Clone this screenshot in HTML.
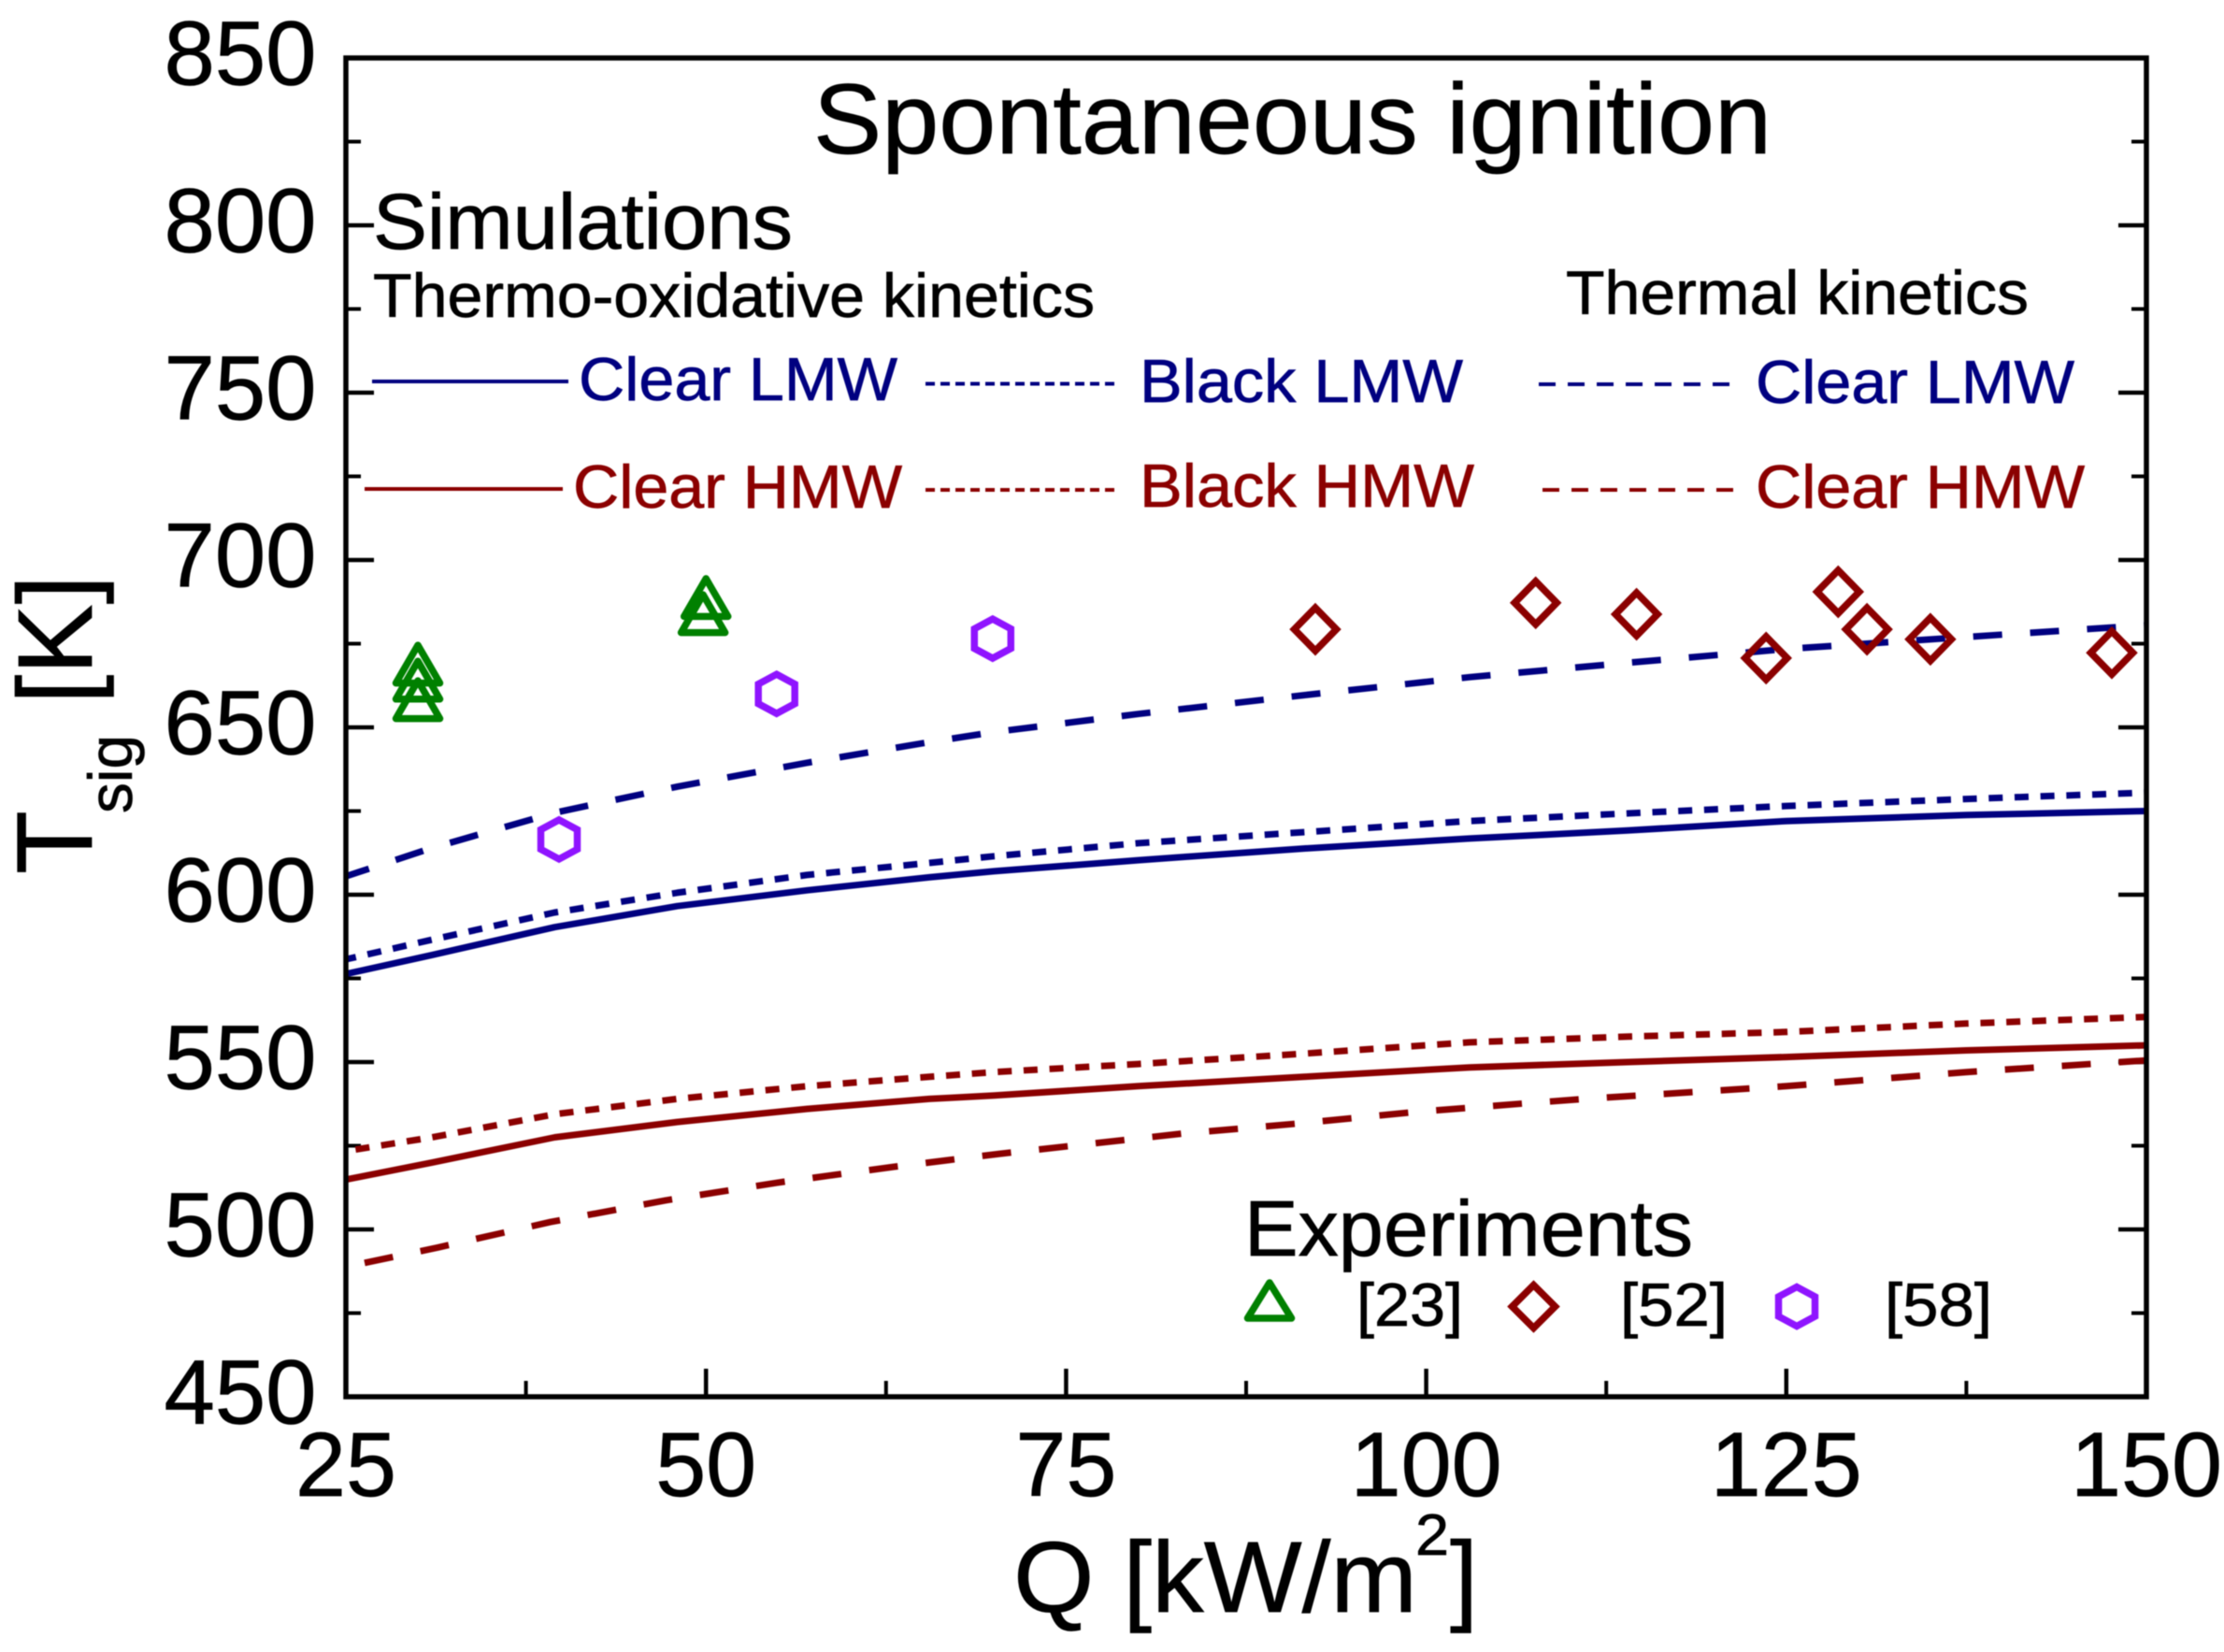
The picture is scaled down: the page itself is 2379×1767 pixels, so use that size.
<!DOCTYPE html>
<html lang="en">
<head>
<meta charset="utf-8">
<title>Spontaneous ignition chart</title>
<style>
html,body{margin:0;padding:0;background:#fff;width:2379px;height:1767px;overflow:hidden}
svg{display:block;filter:blur(0.6px)}
text{font-family:"Liberation Sans",Arial,sans-serif;fill:#000;stroke:#000;stroke-width:0.7px}
.blue{fill:#000080;stroke:#000080}
.red{fill:#8b0000;stroke:#8b0000}
</style>
</head>
<body>
<svg id="chart" xmlns="http://www.w3.org/2000/svg" width="2379" height="1767" viewBox="0 0 2379 1767">
  <rect x="0" y="0" width="2379" height="1767" fill="#fff"/>
  <g id="ticks"></g>
  <g id="tick-labels"></g>
  <g id="series"></g>
  <g id="points"></g>
  <rect x="370" y="62" width="1926" height="1432" fill="none" stroke="#000" stroke-width="5.5"/>

  <text x="870" y="164" font-size="107" textLength="1025" lengthAdjust="spacingAndGlyphs">Spontaneous ignition</text>
  <text x="399" y="266" font-size="84" textLength="449" lengthAdjust="spacingAndGlyphs">Simulations</text>
  <text x="399" y="339" font-size="66" textLength="772" lengthAdjust="spacingAndGlyphs">Thermo-oxidative kinetics</text>
  <text x="1675" y="336" font-size="66" textLength="495" lengthAdjust="spacingAndGlyphs">Thermal kinetics</text>

  <g>
    <line x1="398" y1="408" x2="608" y2="408" stroke="#000080" stroke-width="4"/>
    <text class="blue" x="619" y="428" font-size="65" textLength="341" lengthAdjust="spacingAndGlyphs">Clear LMW</text>
    <line x1="990" y1="410.5" x2="1196" y2="410.5" stroke="#000080" stroke-width="4" stroke-dasharray="10 6"/>
    <text class="blue" x="1219" y="430" font-size="65" textLength="346" lengthAdjust="spacingAndGlyphs">Black LMW</text>
    <line x1="1646" y1="411" x2="1858" y2="411" stroke="#000080" stroke-width="4" stroke-dasharray="18 13"/>
    <text class="blue" x="1878" y="431" font-size="65" textLength="341" lengthAdjust="spacingAndGlyphs">Clear LMW</text>
    <line x1="390" y1="523" x2="602" y2="523" stroke="#8b0000" stroke-width="4"/>
    <text class="red" x="613" y="543" font-size="65" textLength="352" lengthAdjust="spacingAndGlyphs">Clear HMW</text>
    <line x1="990" y1="524" x2="1194" y2="524" stroke="#8b0000" stroke-width="4" stroke-dasharray="10 6"/>
    <text class="red" x="1219" y="542" font-size="65" textLength="358" lengthAdjust="spacingAndGlyphs">Black HMW</text>
    <line x1="1650" y1="524" x2="1862" y2="524" stroke="#8b0000" stroke-width="4" stroke-dasharray="18 13"/>
    <text class="red" x="1878" y="543" font-size="65" textLength="352" lengthAdjust="spacingAndGlyphs">Clear HMW</text>
  </g>

  <g>
    <text x="1331" y="1343" font-size="84" textLength="480" lengthAdjust="spacingAndGlyphs">Experiments</text>
    <polygon points="1358,1372 1381.5,1410 1334.5,1410" fill="none" stroke="#008000" stroke-width="7.5" stroke-linejoin="round"/>
    <text x="1451" y="1418" font-size="65" textLength="114" lengthAdjust="spacingAndGlyphs">[23]</text>
    <polygon points="1640.5,1374.5 1663.5,1397.5 1640.5,1420.5 1617.5,1397.5" fill="none" stroke="#8b0000" stroke-width="7.5"/>
    <text x="1733" y="1418" font-size="65" textLength="115" lengthAdjust="spacingAndGlyphs">[52]</text>
    <polygon points="1922,1376.5 1941.5,1387 1941.5,1408 1922,1418.5 1902.5,1408 1902.5,1387" fill="none" stroke="#8f14ff" stroke-width="7.5"/>
    <text x="2016" y="1418" font-size="65" textLength="115" lengthAdjust="spacingAndGlyphs">[58]</text>
  </g>

  <g>
    <text transform="translate(98 935) rotate(-90)" font-size="115" textLength="68" lengthAdjust="spacingAndGlyphs">T</text>
    <text transform="translate(141 870) rotate(-90)" font-size="66" textLength="84" lengthAdjust="spacingAndGlyphs">sig</text>
    <text transform="translate(98 753) rotate(-90)" font-size="113" textLength="138" lengthAdjust="spacingAndGlyphs">[K]</text>
  </g>
  <g>
    <text x="1084" y="1724" font-size="108" textLength="432" lengthAdjust="spacingAndGlyphs">Q [kW/m</text>
    <text x="1514" y="1663" font-size="62" textLength="36" lengthAdjust="spacingAndGlyphs">2</text>
    <text x="1551" y="1724" font-size="108" textLength="30" lengthAdjust="spacingAndGlyphs">]</text>
  </g>
</svg>
<script>
// Axis ranges and tick labels
const xMajorTicks = [25, 50, 75, 100, 125, 150];
const xMinorTicks = [37.5, 62.5, 87.5, 112.5, 137.5];
const yMajorTicks = [450, 500, 550, 600, 650, 700, 750, 800, 850];
const yMinorTicks = [475, 525, 575, 625, 675, 725, 775, 825];

// Simulated curves: Q [kW/m2] and Tsig [K]
const curveQ = [25, 31, 39.5, 48, 57, 65.5, 70, 80, 91.5, 103, 114, 125, 137.5, 150];
const oxidativeClearLmw = [576.3, 582, 590.3, 596.6, 601.3, 605.2, 607, 610.3, 613.8, 616.8, 619.2, 622, 623.8, 625];
const oxidativeBlackLmw = [580.7, 586.6, 594.7, 600.6, 605.9, 609.5, 611.5, 615.4, 618.7, 622, 624.3, 626.5, 628.6, 630.5];
const thermalClearLmw = [605.5, 614, 624.5, 632.3, 639.4, 645.6, 648.6, 654, 659.6, 665, 669.3, 673.4, 677, 680.5];
const oxidativeClearHmw = [514.9, 520, 527.5, 532.1, 536, 539, 540, 542.8, 545.6, 548.4, 550, 551.5, 553.5, 555];
const oxidativeBlackHmw = [523.4, 527.5, 534.4, 539, 542.8, 545.6, 547, 549.4, 552.5, 555.9, 557.6, 559, 561.5, 563.5];
const thermalHmwQ = [26.3, 31.4, 39.2, 47.2, 55, 63, 70.4, 83, 91, 99, 107, 111, 125, 137.5, 150];
const thermalClearHmw = [490, 494.6, 502.2, 508.7, 514, 518.7, 522.6, 528.6, 531.6, 535, 537.7, 539, 542.8, 547, 550.5];

// Experimental points
const ref23Q = [30, 30, 30, 50, 49.8];
const ref23T = [668.4, 663.6, 657.8, 688.3, 683.5];
const ref52Q = [92.3, 107.6, 114.6, 123.6, 128.6, 130.6, 135, 147.6];
const ref52T = [679.3, 687.2, 683.8, 670.7, 690.5, 679.3, 676.3, 672.3];
const ref58Q = [39.8, 54.9, 69.9];
const ref58T = [616.5, 660, 676.5];

const NS = 'http://www.w3.org/2000/svg';
const plotLeft = 370, plotRight = 2296, plotTop = 62, plotBottom = 1494;
function xScale(q) { return plotLeft + (q - 25) / (150 - 25) * (plotRight - plotLeft); }
function yScale(t) { return plotBottom - (t - 450) / (850 - 450) * (plotBottom - plotTop); }

const ticksGroup = document.getElementById('ticks');
const labelsGroup = document.getElementById('tick-labels');
const seriesGroup = document.getElementById('series');
const pointsGroup = document.getElementById('points');

function addTick(x1, y1, x2, y2, width, name) {
  const el = document.createElementNS(NS, 'line');
  el.setAttribute('x1', x1);
  el.setAttribute('y1', y1);
  el.setAttribute('x2', x2);
  el.setAttribute('y2', y2);
  el.setAttribute('stroke', '#000');
  el.setAttribute('stroke-width', width);
  
  
  ticksGroup.appendChild(el);
}
xMajorTicks.forEach(function (v) {
  addTick(xScale(v), plotBottom, xScale(v), plotBottom - 30, 4.5, 'x-major-tick');
  const el = document.createElementNS(NS, 'text');
  const s = String(v);
  el.textContent = s;
  el.setAttribute('x', xScale(v) - s.length * 54 / 2);
  el.setAttribute('y', 1600);
  el.setAttribute('font-size', '97');
  el.setAttribute('textLength', s.length * 54);
  el.setAttribute('lengthAdjust', 'spacingAndGlyphs');
  
  
  labelsGroup.appendChild(el);
});
xMinorTicks.forEach(function (v) {
  addTick(xScale(v), plotBottom, xScale(v), plotBottom - 17, 4, 'x-minor-tick');
});
yMajorTicks.forEach(function (v) {
  addTick(plotLeft, yScale(v), plotLeft + 30, yScale(v), 4.5, 'y-major-tick-left');
  addTick(plotRight, yScale(v), plotRight - 30, yScale(v), 4.5, 'y-major-tick-right');
  const el = document.createElementNS(NS, 'text');
  el.textContent = String(v);
  el.setAttribute('x', 175.5);
  el.setAttribute('y', yScale(v) + 28.5);
  el.setAttribute('font-size', '97');
  el.setAttribute('textLength', '163');
  el.setAttribute('lengthAdjust', 'spacingAndGlyphs');
  
  
  labelsGroup.appendChild(el);
});
yMinorTicks.forEach(function (v) {
  addTick(plotLeft, yScale(v), plotLeft + 16, yScale(v), 4, 'y-minor-tick-left');
  addTick(plotRight, yScale(v), plotRight - 16, yScale(v), 4, 'y-minor-tick-right');
});

function addCurve(qs, ts, color, dash, offset, name) {
  const el = document.createElementNS(NS, 'polyline');
  el.setAttribute('points', qs.map(function (q, i) {
    return xScale(q).toFixed(1) + ',' + yScale(ts[i]).toFixed(1);
  }).join(' '));
  el.setAttribute('fill', 'none');
  el.setAttribute('stroke', color);
  el.setAttribute('stroke-width', '7');
  el.setAttribute('stroke-linejoin', 'round');
  if (dash) {
    el.setAttribute('stroke-dasharray', dash);
    el.setAttribute('stroke-dashoffset', offset);
  }
  
  
  seriesGroup.appendChild(el);
}
addCurve(curveQ, oxidativeClearLmw, '#000080', '', 0, 'curve-oxidative-clear-lmw');
addCurve(curveQ, oxidativeBlackLmw, '#000080', '15 12.7', 4, 'curve-oxidative-black-lmw');
addCurve(curveQ, thermalClearLmw, '#000080', '31 30', 5, 'curve-thermal-clear-lmw');
addCurve(curveQ, oxidativeClearHmw, '#8b0000', '', 0, 'curve-oxidative-clear-hmw');
addCurve(curveQ, oxidativeBlackHmw, '#8b0000', '15 12.7', -10.5, 'curve-oxidative-black-hmw');
addCurve(thermalHmwQ, thermalClearHmw, '#8b0000', '31 30', 0, 'curve-thermal-clear-hmw');

function addMarker(q, t, offsets, color, join, name) {
  const cx = xScale(q), cy = yScale(t);
  const el = document.createElementNS(NS, 'polygon');
  el.setAttribute('points', offsets.map(function (o) {
    return (cx + o[0]).toFixed(1) + ',' + (cy + o[1]).toFixed(1);
  }).join(' '));
  el.setAttribute('fill', 'none');
  el.setAttribute('stroke', color);
  el.setAttribute('stroke-width', '7.5');
  el.setAttribute('stroke-linejoin', join);
  
  
  pointsGroup.appendChild(el);
}
const triangleShape = [[0, -22], [23.5, 18.5], [-23.5, 18.5]];
const diamondShape = [[0, -23], [22.5, 0], [0, 23], [-22.5, 0]];
const hexagonShape = [[0, -21], [19.5, -10.5], [19.5, 10.5], [0, 21], [-19.5, 10.5], [-19.5, -10.5]];
ref23Q.forEach(function (q, i) { addMarker(q, ref23T[i], triangleShape, '#008000', 'round', 'point-ref-23'); });
ref52Q.forEach(function (q, i) { addMarker(q, ref52T[i], diamondShape, '#8b0000', 'miter', 'point-ref-52'); });
ref58Q.forEach(function (q, i) { addMarker(q, ref58T[i], hexagonShape, '#8f14ff', 'miter', 'point-ref-58'); });
</script>
</body>
</html>
